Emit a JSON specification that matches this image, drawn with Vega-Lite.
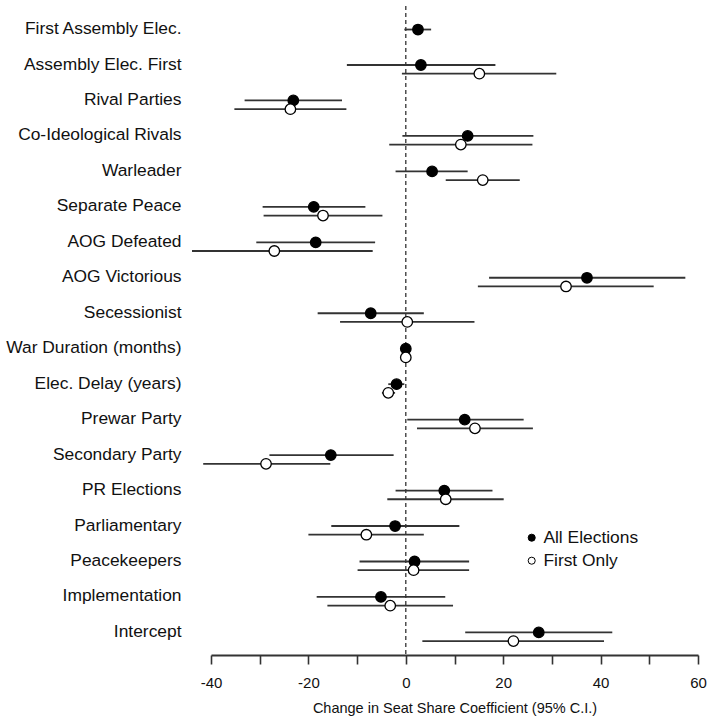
{
  "$schema": "https://vega.github.io/schema/vega-lite/v6.json",
  "width": 487,
  "height": 649,
  "padding": {"left": 5, "top": 5, "right": 5, "bottom": 5},
  "background": "white",
  "config": {
    "view": {"stroke": null},
    "font": "Liberation Sans",
    "legend": {"symbolStrokeColor": "black", "symbolStrokeWidth": 1}
  },
  "data": {
    "values": [
      {"var": "First Assembly Elec.", "series": "All Elections", "est": 2.5, "lo": -0.3, "hi": 5.2},
      {"var": "Assembly Elec. First", "series": "All Elections", "est": 3.1, "lo": -12.1, "hi": 18.4},
      {"var": "Assembly Elec. First", "series": "First Only", "est": 15.1, "lo": -0.8, "hi": 30.9},
      {"var": "Rival Parties", "series": "All Elections", "est": -23.1, "lo": -33.1, "hi": -13.1},
      {"var": "Rival Parties", "series": "First Only", "est": -23.7, "lo": -35.2, "hi": -12.2},
      {"var": "Co-Ideological Rivals", "series": "All Elections", "est": 12.7, "lo": -0.7, "hi": 26.2},
      {"var": "Co-Ideological Rivals", "series": "First Only", "est": 11.3, "lo": -3.4, "hi": 26.0},
      {"var": "Warleader", "series": "All Elections", "est": 5.4, "lo": -2.1, "hi": 12.7},
      {"var": "Warleader", "series": "First Only", "est": 15.8, "lo": 8.2, "hi": 23.4},
      {"var": "Separate Peace", "series": "All Elections", "est": -18.9, "lo": -29.4, "hi": -8.3},
      {"var": "Separate Peace", "series": "First Only", "est": -17.0, "lo": -29.2, "hi": -4.8},
      {"var": "AOG Defeated", "series": "All Elections", "est": -18.5, "lo": -30.7, "hi": -6.3},
      {"var": "AOG Defeated", "series": "First Only", "est": -27.0, "lo": -43.9, "hi": -6.8},
      {"var": "AOG Victorious", "series": "All Elections", "est": 37.2, "lo": 17.1, "hi": 57.4},
      {"var": "AOG Victorious", "series": "First Only", "est": 32.9, "lo": 14.8, "hi": 50.9},
      {"var": "Secessionist", "series": "All Elections", "est": -7.2, "lo": -18.1, "hi": 3.7},
      {"var": "Secessionist", "series": "First Only", "est": 0.3, "lo": -13.5, "hi": 14.1},
      {"var": "War Duration (months)", "series": "All Elections", "est": 0.0, "lo": -0.3, "hi": 0.3},
      {"var": "War Duration (months)", "series": "First Only", "est": 0.0, "lo": -0.3, "hi": 0.3},
      {"var": "Elec. Delay (years)", "series": "All Elections", "est": -1.9, "lo": -3.6, "hi": -0.3},
      {"var": "Elec. Delay (years)", "series": "First Only", "est": -3.6, "lo": -4.9, "hi": -2.2},
      {"var": "Prewar Party", "series": "All Elections", "est": 12.1, "lo": 0.3, "hi": 24.2},
      {"var": "Prewar Party", "series": "First Only", "est": 14.2, "lo": 2.3, "hi": 26.1},
      {"var": "Secondary Party", "series": "All Elections", "est": -15.4, "lo": -28.0, "hi": -2.5},
      {"var": "Secondary Party", "series": "First Only", "est": -28.7, "lo": -41.6, "hi": -15.5},
      {"var": "PR Elections", "series": "All Elections", "est": 7.9, "lo": -2.1, "hi": 17.8},
      {"var": "PR Elections", "series": "First Only", "est": 8.2, "lo": -3.8, "hi": 20.1},
      {"var": "Parliamentary", "series": "All Elections", "est": -2.2, "lo": -15.3, "hi": 11.0},
      {"var": "Parliamentary", "series": "First Only", "est": -8.1, "lo": -20.0, "hi": 3.7},
      {"var": "Peacekeepers", "series": "All Elections", "est": 1.8, "lo": -9.5, "hi": 13.0},
      {"var": "Peacekeepers", "series": "First Only", "est": 1.6, "lo": -9.9, "hi": 13.0},
      {"var": "Implementation", "series": "All Elections", "est": -5.1, "lo": -18.3, "hi": 8.1},
      {"var": "Implementation", "series": "First Only", "est": -3.2, "lo": -16.1, "hi": 9.7},
      {"var": "Intercept", "series": "All Elections", "est": 27.3, "lo": 12.2, "hi": 42.4},
      {"var": "Intercept", "series": "First Only", "est": 22.1, "lo": 3.4, "hi": 40.7}
    ]
  },
  "encoding": {
    "y": {
      "field": "var",
      "type": "nominal",
      "sort": null,
      "scale": {"paddingInner": 0, "paddingOuter": 0.15},
      "axis": {
        "title": null,
        "domain": false,
        "ticks": false,
        "labelPadding": 30,
        "labelFontSize": 17.4,
        "labelColor": "#111",
        "labelFont": "Liberation Sans"
      }
    },
    "yOffset": {
      "field": "series",
      "type": "nominal",
      "scale": {"type": "point", "domain": ["All Elections", "First Only"], "range": [18.2, 26.9], "padding": 0}
    }
  },
  "layer": [
    {
      "mark": {"type": "rule", "strokeDash": [4, 3], "color": "#333", "strokeWidth": 1.3},
      "data": {"values": [{"zero": 0}]},
      "encoding": {
        "x": {"field": "zero", "type": "quantitative"},
        "y": null,
        "yOffset": null
      }
    },
    {
      "mark": {"type": "rule", "color": "#333", "strokeWidth": 1.8},
      "encoding": {
        "x": {
          "field": "lo",
          "type": "quantitative",
          "scale": {"domain": [-40, 60], "nice": false, "zero": false},
          "axis": {
            "title": "Change in Seat Share Coefficient (95% C.I.)",
            "titleFontSize": 14.5,
            "titleFontWeight": "normal",
            "titleColor": "#111",
            "titleFont": "Liberation Sans",
            "titlePadding": 11,
            "values": [-40, -30, -20, -10, 0, 10, 20, 30, 40, 50, 60],
            "labelExpr": "datum.value % 20 === 0 ? (datum.value < 0 ? '-' + abs(datum.value) : '' + datum.value) : ''",
            "labelFontSize": 15,
            "labelColor": "#111",
            "labelFont": "Liberation Sans",
            "labelFlush": false,
            "labelPadding": 11,
            "tickSize": 9,
            "tickColor": "#333",
            "tickWidth": 1.6,
            "domainColor": "#333",
            "domainWidth": 2,
            "grid": false
          }
        },
        "x2": {"field": "hi"}
      }
    },
    {
      "mark": {"type": "point", "filled": false, "size": 110, "stroke": "black", "strokeWidth": 1.3, "opacity": 1},
      "encoding": {
        "x": {"field": "est", "type": "quantitative"},
        "fill": {
          "field": "series",
          "type": "nominal",
          "scale": {"domain": ["All Elections", "First Only"], "range": ["black", "white"]},
          "legend": {
            "title": null,
            "orient": "none",
            "legendX": 312,
            "legendY": 523,
            "padding": 0,
            "symbolType": "circle",
            "symbolSize": 50,
            "symbolStrokeColor": "black",
            "symbolStrokeWidth": 1,
            "labelFontSize": 17.4,
            "labelColor": "#111",
            "labelFont": "Liberation Sans",
            "labelOffset": 3,
            "rowPadding": 4
          }
        }
      }
    }
  ]
}
